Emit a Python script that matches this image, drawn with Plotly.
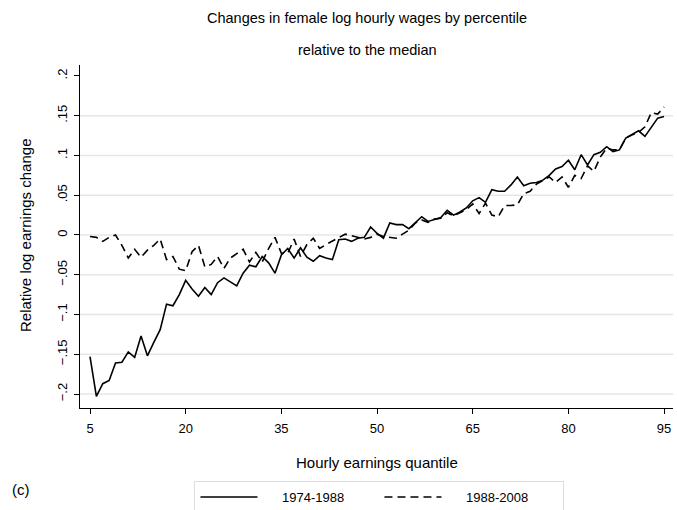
import plotly.graph_objects as go

# Percentiles of the hourly earnings distribution
quantiles = list(range(5, 96))

# Relative log earnings change, 1974-1988 (solid)
change_1974_1988 = [
    -0.153, -0.203, -0.187, -0.183, -0.161, -0.160, -0.147, -0.154, -0.127, -0.152,
    -0.135, -0.119, -0.087, -0.089, -0.075, -0.057, -0.068, -0.077, -0.066, -0.075,
    -0.060, -0.054, -0.059, -0.064, -0.048, -0.038, -0.040, -0.027, -0.035, -0.048,
    -0.025, -0.017, -0.029, -0.016, -0.028, -0.033, -0.026, -0.029, -0.031, -0.006,
    -0.005, -0.008, -0.004, -0.003, 0.010, 0.002, -0.004, 0.015, 0.013, 0.013,
    0.008, 0.016, 0.023, 0.017, 0.020, 0.022, 0.031, 0.025, 0.029, 0.034,
    0.043, 0.047, 0.041, 0.057, 0.055, 0.055, 0.063, 0.073, 0.062, 0.065,
    0.066, 0.069, 0.075, 0.083, 0.086, 0.094, 0.082, 0.101, 0.088, 0.101,
    0.104, 0.111, 0.105, 0.107, 0.122, 0.127, 0.131, 0.124, 0.136, 0.147,
    0.149,
]

# Relative log earnings change, 1988-2008 (dashed)
change_1988_2008 = [
    -0.002, -0.003, -0.008, -0.003, 0.000, -0.013, -0.029, -0.018, -0.028, -0.019,
    -0.013, -0.005, -0.031, -0.027, -0.043, -0.045, -0.021, -0.013, -0.040, -0.037,
    -0.027, -0.042, -0.029, -0.023, -0.018, -0.034, -0.022, -0.034, -0.017, -0.003,
    -0.023, -0.023, -0.005, -0.027, -0.012, -0.004, -0.017, -0.012, -0.008, -0.003,
    0.001, -0.001, -0.003, -0.005, -0.003, 0.001, -0.002, -0.003, -0.004, 0.001,
    0.006, 0.015, 0.019, 0.016, 0.020, 0.021, 0.028, 0.024, 0.028, 0.032,
    0.039, 0.027, 0.040, 0.025, 0.023, 0.037, 0.037, 0.038, 0.052, 0.055,
    0.064, 0.069, 0.073, 0.066, 0.073, 0.060, 0.075, 0.071, 0.087, 0.080,
    0.098, 0.109, 0.107, 0.107, 0.122, 0.126, 0.129, 0.136, 0.154, 0.152,
    0.161,
]

series_names = ["1974-1988", "1988-2008"]

x_ticks = [5, 20, 35, 50, 65, 80, 95]
x_tick_labels = ["5", "20", "35", "50", "65", "80", "95"]
y_ticks = [-0.2, -0.15, -0.1, -0.05, 0, 0.05, 0.1, 0.15, 0.2]
y_tick_labels = ["\u2212.2", "\u2212.15", "\u2212.1", "\u2212.05", "0", ".05", ".1", ".15", ".2"]
grid_values = [-0.2, -0.15, -0.1, -0.05, 0, 0.05, 0.1, 0.15]

FONT = "Liberation Sans, Arial, Helvetica, sans-serif"
PAD = "\u2002\u2002\u2002"  # gap between legend key and its label

fig = go.Figure()
fig.add_trace(go.Scatter(
    x=quantiles, y=change_1974_1988, mode="lines", name=PAD + series_names[0],
    line=dict(color="black", width=1.6),
))
fig.add_trace(go.Scatter(
    x=quantiles, y=change_1988_2008, mode="lines", name=PAD + series_names[1],
    line=dict(color="black", width=1.6, dash="8px,5px"),
))

for g in grid_values:
    fig.add_shape(type="line", xref="paper", x0=0, x1=1, yref="y", y0=g, y1=g,
                  line=dict(color="#e6e6e6", width=1.6), layer="below")

fig.update_layout(
    width=677, height=510,
    margin=dict(l=80, r=4, t=65, b=102, autoexpand=False),
    paper_bgcolor="white", plot_bgcolor="white",
    font=dict(family=FONT, size=13, color="black"),
    showlegend=True,
    legend=dict(
        orientation="h", x=0.505, xanchor="center", y=-0.213, yanchor="top",
        bordercolor="#dddddd", borderwidth=1, font=dict(size=13),
        itemwidth=57, entrywidth=112, entrywidthmode="pixels",
    ),
    xaxis=dict(
        range=[3.43, 96.4], tickvals=x_ticks, ticktext=x_tick_labels,
        showgrid=False, zeroline=False, showline=True, linecolor="black", linewidth=1,
        ticks="outside", ticklen=5, tickcolor="black", tickfont=dict(size=13),
        ticklabeloverflow="allow", ticklabelstandoff=3,
    ),
    yaxis=dict(
        range=[-0.2176, 0.2138], tickvals=y_ticks, ticktext=y_tick_labels,
        showgrid=False, zeroline=False, showline=True, linecolor="black", linewidth=1,
        ticks="outside", ticklen=5, tickcolor="black", tickangle=-90, tickfont=dict(size=13),
        ticklabelstandoff=2,
    ),
    annotations=[
        dict(text="Changes in female log hourly wages by percentile", xref="paper", yref="paper",
             x=0.484, y=1.137, xanchor="center", yanchor="middle", showarrow=False,
             font=dict(size=14.5)),
        dict(text="relative to the median", xref="paper", yref="paper",
             x=0.484, y=1.044, xanchor="center", yanchor="middle", showarrow=False,
             font=dict(size=14.5)),
        dict(text="Relative log earnings change", xref="paper", yref="paper",
             x=-0.093, y=0.504, xanchor="center", yanchor="middle", textangle=-90,
             showarrow=False, font=dict(size=15)),
        dict(text="Hourly earnings quantile", xref="paper", yref="paper",
             x=0.5, y=-0.160, xanchor="center", yanchor="middle", showarrow=False,
             font=dict(size=15)),
        dict(text="(c)", xref="paper", yref="paper",
             x=-0.118, y=-0.239, xanchor="left", yanchor="middle", showarrow=False,
             font=dict(size=15)),
    ],
)

fig.write_html("out.html", config={"displayModeBar": False},
               post_script="document.body.style.margin='0';")
